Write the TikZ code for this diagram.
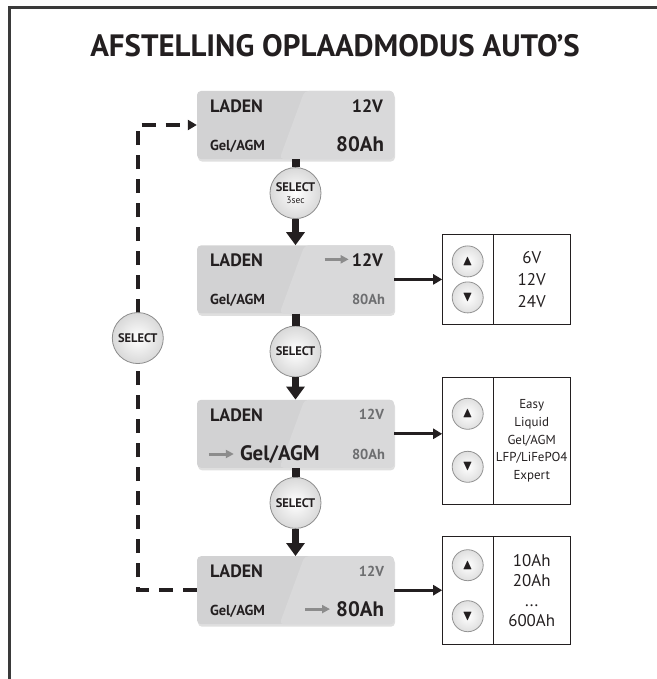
\documentclass[tikz,border=0pt]{standalone}
\usepackage{amssymb}
\usepackage{graphicx}
\usepackage{fontspec}
\setmainfont{PT Sans}
\usepackage{xcolor}
\definecolor{CInk}{HTML}{231F20}
\definecolor{CFrame}{HTML}{3A3A3A}
\definecolor{CLcd}{HTML}{D2D2D3}
\definecolor{CLcdLight}{HTML}{D9D9DA}
\definecolor{CDim}{HTML}{6D6E70}
\definecolor{CPointer}{HTML}{8C8C8C}
\usetikzlibrary{arrows.meta,positioning,calc,shadows}
\tikzstyle{lcdNode}=[rectangle, rounded corners=4bp, fill=CLcd, minimum width=197bp,
  minimum height=68bp, inner sep=0pt,
  drop shadow={opacity=0.25, shadow xshift=1bp, shadow yshift=-2.5bp},
  path picture={\fill[CLcdLight] ([xshift=9bp]path picture bounding box.north)
    -- (path picture bounding box.north east) -- (path picture bounding box.south east)
    -- ([xshift=-16bp]path picture bounding box.south) -- cycle;}]
\tikzstyle{selNode}=[circle, draw=gray!90, line width=0.8bp, inner color=white, outer color=gray!30,
  minimum size=51bp, inner sep=0pt, align=center, text=CInk,
  font=\bfseries\fontsize{12.5}{12}\selectfont]
\tikzstyle{keyNode}=[rectangle, draw=CInk, line width=1.3bp, minimum width=51bp,
  inner sep=0pt, outer sep=0pt]
\tikzstyle{valNode}=[rectangle, draw=CInk, line width=1.3bp, minimum width=77bp,
  inner sep=0pt, outer sep=0pt, align=center, text=CInk]
\tikzstyle{btnNode}=[circle, draw=gray!85, line width=0.8bp, inner color=white, outer color=gray!25,
  minimum size=31bp, inner sep=0pt, text=CInk]
\tikzstyle{bigText}=[font=\bfseries\fontsize{18}{18}\selectfont, text=CInk, inner sep=0pt]
\tikzstyle{smallText}=[font=\bfseries\fontsize{14.5}{14}\selectfont, text=CInk, inner sep=0pt]
\tikzstyle{hotText}=[font=\bfseries\fontsize{21}{20}\selectfont, text=CInk, inner sep=0pt]
\tikzstyle{dimText}=[font=\bfseries\fontsize{14.5}{14}\selectfont, text=CDim, inner sep=0pt]
\tikzstyle{stub}=[line width=8bp, draw=CInk]
\tikzstyle{downArr}=[-{Triangle[width=18bp,length=13bp]}, line width=7bp, draw=CInk]
\tikzstyle{sideArr}=[-{Triangle[width=10bp,length=9bp]}, line width=3bp, draw=CInk]
\tikzstyle{pointerArr}=[-{Triangle[width=8bp,length=8bp]}, line width=3bp, draw=CPointer]
\tikzstyle{loopLine}=[line width=4bp, draw=CInk, dash pattern=on 14bp off 10bp]
\newcommand{\keyUp}{\scalebox{1.45}{$\blacktriangle$}}
\newcommand{\keyDown}{\scalebox{1.45}{$\blacktriangledown$}}

\begin{document}
\begin{tikzpicture}[x=1bp, y=1bp]
\useasboundingbox (0,0) rectangle (657,-679);
\draw[line width=3bp, draw=CFrame] (9,-679) -- (9,-8) -- (657,-8);
\node[font=\bfseries\fontsize{31}{31}\selectfont, text=CInk] (title) at (335,-46)
  {AFSTELLING OPLAADMODUS AUTO’S};

% display column
\node[lcdNode] (lcdA) at (295.5,-125) {};
\node[selNode, below=8bp of lcdA] (selA)
  {SELECT\\[0.5bp]{\mdseries\fontsize{9.5}{9}\selectfont 3sec}};
\node[lcdNode, below=86bp of lcdA] (lcdB) {};
\node[selNode, below=12bp of lcdB] (selB) {SELECT};
\node[lcdNode, below=86bp of lcdB] (lcdC) {};
\node[selNode, below=9bp of lcdC] (selC) {SELECT};
\node[lcdNode, below=88bp of lcdC] (lcdD) {};

% display texts
\node[bigText, anchor=base west] (modeA) at ([xshift=13bp,yshift=-21.5bp]lcdA.north west) {LADEN};
\node[bigText, anchor=base east] (voltA) at ([xshift=-11bp,yshift=-21.5bp]lcdA.north east) {12V};
\node[smallText, anchor=base west] (typeA) at ([xshift=13bp,yshift=9bp]lcdA.south west) {Gel/AGM};
\node[hotText, anchor=base east] (capA) at ([xshift=-10bp,yshift=8bp]lcdA.south east) {80Ah};

\node[bigText, anchor=base west] (modeB) at ([xshift=13bp,yshift=-21.5bp]lcdB.north west) {LADEN};
\node[bigText, anchor=base east] (voltB) at ([xshift=-11bp,yshift=-21.5bp]lcdB.north east) {12V};
\node[smallText, anchor=base west] (typeB) at ([xshift=13bp,yshift=9bp]lcdB.south west) {Gel/AGM};
\node[dimText, anchor=base east] (capB) at ([xshift=-9bp,yshift=9bp]lcdB.south east) {80Ah};

\node[bigText, anchor=base west] (modeC) at ([xshift=13bp,yshift=-21.5bp]lcdC.north west) {LADEN};
\node[dimText, anchor=base east] (voltC) at ([xshift=-10bp,yshift=-20bp]lcdC.north east) {12V};
\node[hotText, anchor=base west] (typeC) at ([xshift=43bp,yshift=8bp]lcdC.south west) {Gel/AGM};
\node[dimText, anchor=base east] (capC) at ([xshift=-9bp,yshift=9bp]lcdC.south east) {80Ah};

\node[bigText, anchor=base west] (modeD) at ([xshift=13bp,yshift=-21.5bp]lcdD.north west) {LADEN};
\node[dimText, anchor=base east] (voltD) at ([xshift=-10bp,yshift=-20bp]lcdD.north east) {12V};
\node[smallText, anchor=base west] (typeD) at ([xshift=13bp,yshift=9bp]lcdD.south west) {Gel/AGM};
\node[hotText, anchor=base east] (capD) at ([xshift=-10bp,yshift=8bp]lcdD.south east) {80Ah};

\draw[pointerArr] ([xshift=-27bp,yshift=1bp]voltB.west) -- ([xshift=-3bp,yshift=1bp]voltB.west);
\draw[pointerArr] ([xshift=-31bp]typeC.west) -- ([xshift=-6bp]typeC.west);
\draw[pointerArr] ([xshift=-31bp]capD.west) -- ([xshift=-6bp]capD.west);

% choice boxes
\node[keyNode, minimum height=90bp, right=48bp of lcdB] (keysA) {};
\node[valNode, minimum height=90bp, right=0bp of keysA, font=\fontsize{17}{22}\selectfont] (valsA)
  {6V\\12V\\24V};
\node[keyNode, minimum height=127bp, right=48bp of lcdC, yshift=-7bp] (keysB) {};
\node[valNode, minimum height=127bp, right=0bp of keysB, font=\fontsize{13}{18}\selectfont] (valsB)
  {Easy\\Liquid\\Gel/AGM\\LFP/LiFePO4\\Expert};
\node[keyNode, minimum height=108bp, right=48bp of lcdD] (keysC) {};
\node[valNode, minimum height=108bp, right=0bp of keysC, font=\fontsize{17}{20}\selectfont] (valsC)
  {10Ah\\20Ah\\...\\600Ah};

\node[btnNode] (upA) at ([yshift=18bp]keysA.center) {\keyUp};
\node[btnNode] (downA) at ([yshift=-18bp]keysA.center) {\keyDown};
\node[btnNode] (upB) at ([yshift=27bp]keysB.center) {\keyUp};
\node[btnNode] (downB) at ([yshift=-26bp]keysB.center) {\keyDown};
\node[btnNode] (upC) at ([yshift=25bp]keysC.center) {\keyUp};
\node[btnNode] (downC) at ([yshift=-26bp]keysC.center) {\keyDown};

% connectors
\draw[stub] (lcdA.south) -- (selA.north);
\draw[downArr] (selA.south) -- (lcdB.north);
\draw[stub] (lcdB.south) -- (selB.north);
\draw[downArr] (selB.south) -- (lcdC.north);
\draw[stub] (lcdC.south) -- (selC.north);
\draw[downArr] (selC.south) -- (lcdD.north);
\draw[sideArr] (lcdB.east) -- (lcdB.east -| keysA.west);
\draw[sideArr] (lcdC.east) -- (lcdC.east -| keysB.west);
\draw[sideArr] (lcdD.east) -- (lcdD.east -| keysC.west);

% return loop
\coordinate[left=59bp of lcdA.west] (loopTop);
\coordinate (loopBot) at (loopTop |- lcdD.west);
\draw[loopLine, -{Triangle[width=10bp,length=9bp]}] (lcdD.west) -- (loopBot) -- (loopTop) -- (lcdA.west);
\node[selNode] (selLoop) at ($(loopTop)!0.458!(loopBot)$) {SELECT};
\end{tikzpicture}
\end{document}
